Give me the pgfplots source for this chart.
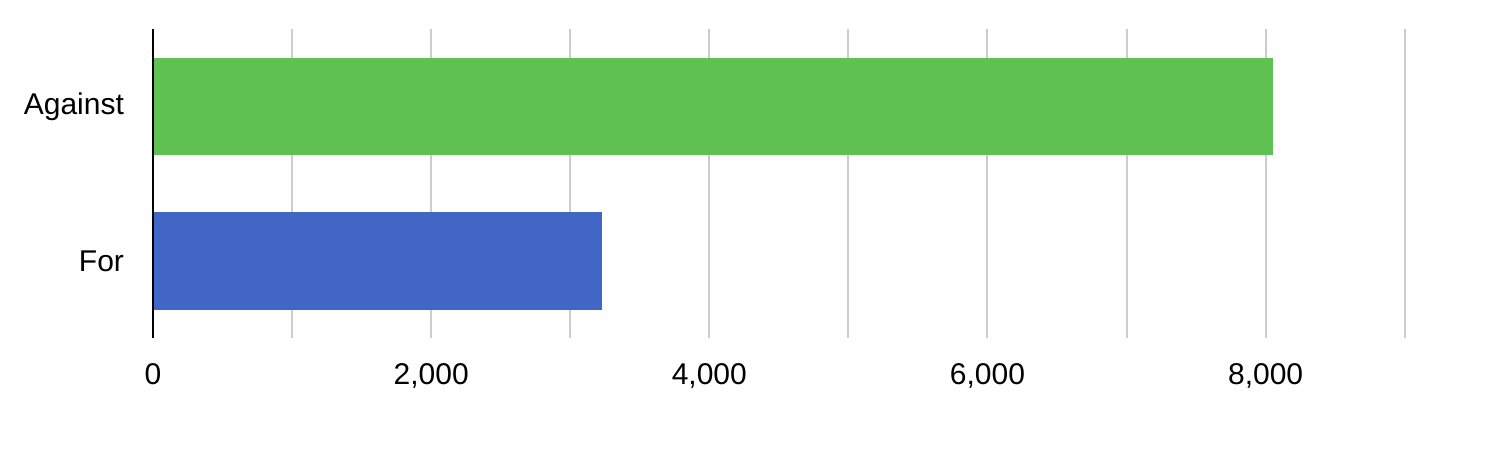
\documentclass[border=0pt]{standalone}
\usepackage{pgfplots}
\pgfplotsset{compat=1.18}
\usepackage{fontspec}
\setmainfont{Liberation Sans}
\definecolor{barGreen}{HTML}{5FC151}
\definecolor{barBlue}{HTML}{4166C5}
\definecolor{gridGray}{HTML}{CCCCCC}
\begin{document}
\begin{tikzpicture}
\path[use as bounding box] (0,0) rectangle (755pt,-236pt);
\begin{axis}[
  at={(76.5pt,-169pt)}, anchor=south west,
  scale only axis,
  width=625.85pt, height=154.35pt,
  xbar, bar width=48.7pt,
  xmin=0, xmax=9000, ymin=-0.5, ymax=1.5,
  xtick={0,1000,...,9000},
  xticklabels={0,,{2,000},,{4,000},,{6,000},,{8,000},},
  ytick={0,1}, yticklabels={For,Against},
  xmajorgrids, grid style={gridGray, line width=1pt},
  axis lines=left,
  x axis line style={draw=none,-},
  y axis line style={-, black, line width=1pt},
  major tick length=0pt,
  tick style={draw=none},
  font=\fontsize{15}{17}\selectfont,
  /pgf/number format/assume math mode=true,
  xticklabel style={yshift=-9pt},
  yticklabel style={xshift=-11pt},
  clip=false,
]
\addplot[fill=barBlue, draw=none, bar shift=0pt] coordinates {(3230,0)};
\addplot[fill=barGreen, draw=none, bar shift=0pt] coordinates {(8055,1)};
\draw[black, line width=1pt] (axis cs:0,-0.5) -- (axis cs:0,1.5);
\end{axis}
\end{tikzpicture}
\end{document}
